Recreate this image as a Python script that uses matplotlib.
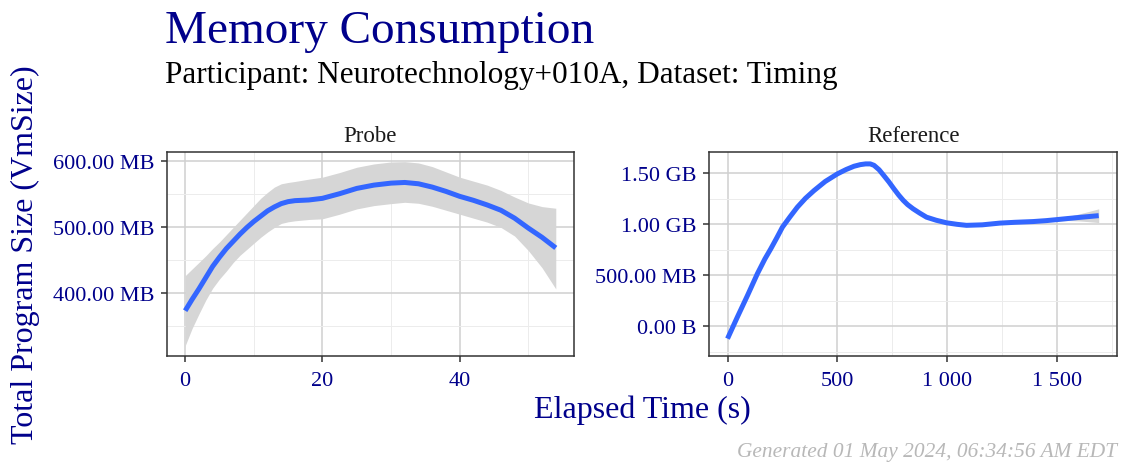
import matplotlib
matplotlib.use("Agg")
import matplotlib.pyplot as plt

# Probe panel: smoothed memory (MB) over elapsed time (s), with confidence band
probe_t = [0, 1, 2, 3, 4, 5, 6, 7, 8, 9, 10, 11, 12, 13, 14, 15, 16, 18, 20, 22.5, 25, 27.5, 30, 32,
           34, 36, 38, 40, 42, 44, 46, 48, 50, 52, 54]
probe_mb = [373, 390, 406, 423, 440, 454, 467, 478, 489, 499, 508, 516, 524, 530, 535, 538, 539.5, 540.5,
            543, 550, 558, 563, 566, 567, 565, 560, 553.5, 546, 540, 533, 525, 513, 498, 484, 468]
probe_hi = [426, 436, 446, 456, 467, 477, 488, 499, 510, 521, 532, 543, 552, 560, 565, 567, 568.5, 572,
            575, 582, 590, 595, 598, 598.5, 596.5, 591, 583, 575, 569, 563, 555, 545, 536, 530.5, 528]
probe_lo = [320, 346, 368, 389, 407, 421, 433, 446, 457, 466, 475, 484, 492, 499, 505, 507.5, 509, 511,
            512, 519, 527, 532, 535, 537, 535.5, 531, 525, 519, 513, 507, 499, 486, 464, 438, 406]

# Reference panel
ref_t = [0, 45, 91, 136, 170, 197, 225, 250, 285, 318, 355, 394, 445, 500, 540, 576, 605, 629, 650, 667,
         690, 712, 735, 758, 780, 800, 820, 845, 875, 906, 950, 997, 1045, 1088, 1160, 1240, 1310, 1391,
         1450, 1494, 1550, 1603, 1650, 1690]
ref_mb = [-120, 92, 303, 516, 660, 760, 870, 972, 1075, 1168, 1255, 1331, 1420, 1494, 1537, 1569, 1585,
          1592, 1592, 1578, 1535, 1477, 1415, 1347, 1285, 1235, 1193, 1152, 1110, 1070, 1040, 1015, 1000,
          990, 995, 1012, 1020, 1027, 1036, 1045, 1057, 1068, 1077, 1085]
ref_hi = [-90, 107, 313, 526, 670, 770, 880, 982, 1085, 1178, 1265, 1341, 1430, 1504, 1547, 1579, 1596,
          1604, 1604, 1590, 1547, 1489, 1427, 1359, 1297, 1247, 1205, 1164, 1121, 1080, 1050, 1025, 1010,
          1000, 1005, 1022, 1030, 1037, 1047, 1057, 1077, 1103, 1129, 1152]
ref_lo = [-150, 77, 293, 506, 650, 750, 860, 962, 1065, 1158, 1245, 1321, 1410, 1484, 1527, 1559, 1574,
          1580, 1580, 1566, 1523, 1465, 1403, 1335, 1273, 1223, 1181, 1140, 1099, 1060, 1030, 1005, 990,
          980, 985, 1002, 1010, 1017, 1025, 1033, 1037, 1033, 1025, 1017]

probe_yticks = [400, 500, 600]
probe_ylabels = ["400.00 MB", "500.00 MB", "600.00 MB"]
probe_xticks = [0, 20, 40]
probe_xlabels = ["0", "20", "40"]
ref_yticks = [0, 500, 1000, 1500]
ref_ylabels = ["0.00 B", "500.00 MB", "1.00 GB", "1.50 GB"]
ref_xticks = [0, 500, 1000, 1500]
ref_xlabels = ["0", "500", "1 000", "1 500"]

navy = "#00008B"
plt.rcParams["font.family"] = ["Liberation Serif", "DejaVu Serif"]

fig = plt.figure(figsize=(11.23, 4.64), dpi=100)
ax1 = fig.add_axes([0.1484, 0.2313, 0.3630, 0.4397])
ax2 = fig.add_axes([0.6313, 0.2313, 0.3636, 0.4397])


def style(ax, t, mb, lo, hi, xticks, xlabels, xminor, yticks, ylabels, yminor, xlim, ylim, name):
    ax.fill_between(t, lo, hi, color="#d6d6d6", lw=0, zorder=2)
    ax.plot(t, mb, color="#3366FF", lw=3.6, solid_capstyle="butt", solid_joinstyle="round", zorder=3)
    ax.set_xlim(*xlim)
    ax.set_ylim(*ylim)
    ax.set_xticks(xticks)
    ax.set_xticklabels(xlabels)
    ax.set_xticks(xminor, minor=True)
    ax.set_yticks(yticks)
    ax.set_yticklabels(ylabels)
    ax.set_yticks(yminor, minor=True)
    ax.grid(which="major", color="#d0d0d0", lw=1.1, zorder=0)
    ax.grid(which="minor", color="#ececec", lw=0.7, zorder=0)
    ax.set_axisbelow(True)
    ax.tick_params(which="major", length=4, width=1.1, color="#333333",
                   labelcolor=navy, labelsize=16, pad=5)
    ax.tick_params(axis="x", which="major", pad=7)
    ax.tick_params(which="minor", length=0)
    for s in ax.spines.values():
        s.set_color("#333333")
        s.set_linewidth(1.1)
    ax.set_title(name, fontsize=16.5, color="#1a1a1a", pad=8)


style(ax1, probe_t, probe_mb, probe_lo, probe_hi, probe_xticks, probe_xlabels, [10, 30, 50],
      probe_yticks, probe_ylabels, [350, 450, 550], (-2.7, 56.7), (305, 613.6), "Probe")
style(ax2, ref_t, ref_mb, ref_lo, ref_hi, ref_xticks, ref_xlabels, [250, 750, 1250, 1750],
      ref_yticks, ref_ylabels, [-250, 250, 750, 1250], (-84.5, 1774.5), (-287, 1712), "Reference")

fig.text(0.147, 0.907, "Memory Consumption", fontsize=34, color=navy, va="baseline")
fig.text(0.147, 0.821, "Participant: Neurotechnology+010A, Dataset: Timing", fontsize=22.5,
         color="black", va="baseline")
fig.text(0.5716, 0.099, "Elapsed Time (s)", fontsize=23, color=navy, ha="center", va="baseline")
fig.text(0.0223, 0.451, "Total Program Size (VmSize)", fontsize=23, color=navy,
         rotation=90, ha="center", va="center")
fig.text(0.9947, 0.015, "Generated 01 May 2024, 06:34:56 AM EDT", fontsize=15.4, color="#b8b8b8",
         style="italic", ha="right", va="baseline")

fig.savefig("out.png", dpi=100)
